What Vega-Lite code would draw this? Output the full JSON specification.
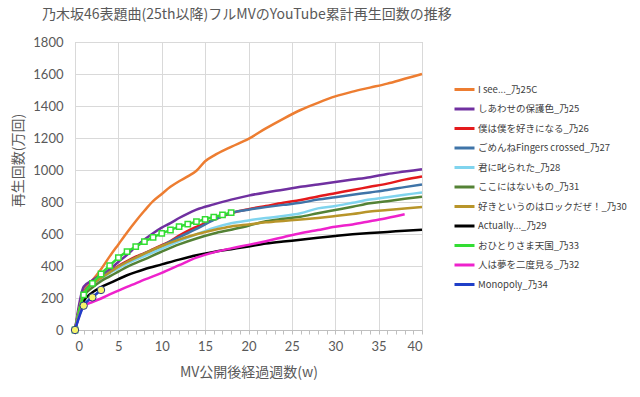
{
  "$schema": "https://vega.github.io/schema/vega-lite/v6.json",
  "autosize": {"type": "none"},
  "width": 347,
  "height": 288,
  "padding": {"left": 75, "top": 42, "right": 218, "bottom": 67},
  "background": "white",
  "config": {
    "font": "Lato, 'Noto Sans CJK JP'",
    "view": {"stroke": "#BFBFBF", "strokeWidth": 1}
  },
  "title": {
    "text": "乃木坂46表題曲(25th以降)フルMVのYouTube累計再生回数の推移",
    "anchor": "start",
    "frame": "group",
    "dx": -33,
    "offset": 14,
    "fontSize": 14,
    "fontWeight": "normal",
    "color": "#595959",
    "font": "'Noto Sans CJK JP'"
  },
  "datasets": {
    "main": [
      {"s": "I see..._乃25C", "w": 0, "v": 0}, {"s": "I see..._乃25C", "w": 1, "v": 250}, {"s": "I see..._乃25C", "w": 2, "v": 310}, {"s": "I see..._乃25C", "w": 3, "v": 380}, {"s": "I see..._乃25C", "w": 4, "v": 460}, {"s": "I see..._乃25C", "w": 5, "v": 535}, {"s": "I see..._乃25C", "w": 6, "v": 610}, {"s": "I see..._乃25C", "w": 7, "v": 680}, {"s": "I see..._乃25C", "w": 8, "v": 745}, {"s": "I see..._乃25C", "w": 9, "v": 805}, {"s": "I see..._乃25C", "w": 10, "v": 850}, {"s": "I see..._乃25C", "w": 11, "v": 895}, {"s": "I see..._乃25C", "w": 12, "v": 930}, {"s": "I see..._乃25C", "w": 13, "v": 960}, {"s": "I see..._乃25C", "w": 14, "v": 995}, {"s": "I see..._乃25C", "w": 15, "v": 1055}, {"s": "I see..._乃25C", "w": 16, "v": 1090}, {"s": "I see..._乃25C", "w": 18, "v": 1145}, {"s": "I see..._乃25C", "w": 20, "v": 1195}, {"s": "I see..._乃25C", "w": 22, "v": 1260}, {"s": "I see..._乃25C", "w": 24, "v": 1320}, {"s": "I see..._乃25C", "w": 26, "v": 1375}, {"s": "I see..._乃25C", "w": 28, "v": 1420}, {"s": "I see..._乃25C", "w": 30, "v": 1460}, {"s": "I see..._乃25C", "w": 32, "v": 1490}, {"s": "I see..._乃25C", "w": 34, "v": 1515}, {"s": "I see..._乃25C", "w": 36, "v": 1540}, {"s": "I see..._乃25C", "w": 38, "v": 1570}, {"s": "I see..._乃25C", "w": 40, "v": 1600},

      {"s": "しあわせの保護色_乃25", "w": 0, "v": 0}, {"s": "しあわせの保護色_乃25", "w": 1, "v": 270}, {"s": "しあわせの保護色_乃25", "w": 2, "v": 310}, {"s": "しあわせの保護色_乃25", "w": 3, "v": 345}, {"s": "しあわせの保護色_乃25", "w": 4, "v": 380}, {"s": "しあわせの保護色_乃25", "w": 5, "v": 425}, {"s": "しあわせの保護色_乃25", "w": 6, "v": 470}, {"s": "しあわせの保護色_乃25", "w": 7, "v": 520}, {"s": "しあわせの保護色_乃25", "w": 8, "v": 565}, {"s": "しあわせの保護色_乃25", "w": 9, "v": 605}, {"s": "しあわせの保護色_乃25", "w": 10, "v": 640}, {"s": "しあわせの保護色_乃25", "w": 11, "v": 668}, {"s": "しあわせの保護色_乃25", "w": 12, "v": 700}, {"s": "しあわせの保護色_乃25", "w": 13, "v": 728}, {"s": "しあわせの保護色_乃25", "w": 14, "v": 752}, {"s": "しあわせの保護色_乃25", "w": 16, "v": 785}, {"s": "しあわせの保護色_乃25", "w": 18, "v": 815}, {"s": "しあわせの保護色_乃25", "w": 20, "v": 840}, {"s": "しあわせの保護色_乃25", "w": 22, "v": 860}, {"s": "しあわせの保護色_乃25", "w": 24, "v": 877}, {"s": "しあわせの保護色_乃25", "w": 26, "v": 895}, {"s": "しあわせの保護色_乃25", "w": 28, "v": 910}, {"s": "しあわせの保護色_乃25", "w": 30, "v": 925}, {"s": "しあわせの保護色_乃25", "w": 32, "v": 940}, {"s": "しあわせの保護色_乃25", "w": 34, "v": 955}, {"s": "しあわせの保護色_乃25", "w": 36, "v": 975}, {"s": "しあわせの保護色_乃25", "w": 38, "v": 990}, {"s": "しあわせの保護色_乃25", "w": 40, "v": 1005},

      {"s": "僕は僕を好きになる_乃26", "w": 0, "v": 0}, {"s": "僕は僕を好きになる_乃26", "w": 1, "v": 230}, {"s": "僕は僕を好きになる_乃26", "w": 2, "v": 290}, {"s": "僕は僕を好きになる_乃26", "w": 3, "v": 330}, {"s": "僕は僕を好きになる_乃26", "w": 4, "v": 365}, {"s": "僕は僕を好きになる_乃26", "w": 5, "v": 400}, {"s": "僕は僕を好きになる_乃26", "w": 6, "v": 430}, {"s": "僕は僕を好きになる_乃26", "w": 7, "v": 458}, {"s": "僕は僕を好きになる_乃26", "w": 8, "v": 480}, {"s": "僕は僕を好きになる_乃26", "w": 9, "v": 505}, {"s": "僕は僕を好きになる_乃26", "w": 10, "v": 530}, {"s": "僕は僕を好きになる_乃26", "w": 11, "v": 555}, {"s": "僕は僕を好きになる_乃26", "w": 12, "v": 590}, {"s": "僕は僕を好きになる_乃26", "w": 13, "v": 620}, {"s": "僕は僕を好きになる_乃26", "w": 14, "v": 645}, {"s": "僕は僕を好きになる_乃26", "w": 16, "v": 690}, {"s": "僕は僕を好きになる_乃26", "w": 18, "v": 730}, {"s": "僕は僕を好きになる_乃26", "w": 20, "v": 755}, {"s": "僕は僕を好きになる_乃26", "w": 22, "v": 775}, {"s": "僕は僕を好きになる_乃26", "w": 24, "v": 795}, {"s": "僕は僕を好きになる_乃26", "w": 26, "v": 812}, {"s": "僕は僕を好きになる_乃26", "w": 28, "v": 835}, {"s": "僕は僕を好きになる_乃26", "w": 30, "v": 855}, {"s": "僕は僕を好きになる_乃26", "w": 32, "v": 875}, {"s": "僕は僕を好きになる_乃26", "w": 34, "v": 895}, {"s": "僕は僕を好きになる_乃26", "w": 36, "v": 915}, {"s": "僕は僕を好きになる_乃26", "w": 38, "v": 940}, {"s": "僕は僕を好きになる_乃26", "w": 40, "v": 960},

      {"s": "ごめんねFingers crossed_乃27", "w": 0, "v": 0}, {"s": "ごめんねFingers crossed_乃27", "w": 1, "v": 230}, {"s": "ごめんねFingers crossed_乃27", "w": 2, "v": 290}, {"s": "ごめんねFingers crossed_乃27", "w": 3, "v": 330}, {"s": "ごめんねFingers crossed_乃27", "w": 4, "v": 365}, {"s": "ごめんねFingers crossed_乃27", "w": 5, "v": 395}, {"s": "ごめんねFingers crossed_乃27", "w": 6, "v": 425}, {"s": "ごめんねFingers crossed_乃27", "w": 8, "v": 478}, {"s": "ごめんねFingers crossed_乃27", "w": 10, "v": 525}, {"s": "ごめんねFingers crossed_乃27", "w": 12, "v": 580}, {"s": "ごめんねFingers crossed_乃27", "w": 14, "v": 632}, {"s": "ごめんねFingers crossed_乃27", "w": 16, "v": 688}, {"s": "ごめんねFingers crossed_乃27", "w": 18, "v": 733}, {"s": "ごめんねFingers crossed_乃27", "w": 20, "v": 752}, {"s": "ごめんねFingers crossed_乃27", "w": 22, "v": 768}, {"s": "ごめんねFingers crossed_乃27", "w": 24, "v": 782}, {"s": "ごめんねFingers crossed_乃27", "w": 26, "v": 795}, {"s": "ごめんねFingers crossed_乃27", "w": 28, "v": 815}, {"s": "ごめんねFingers crossed_乃27", "w": 30, "v": 830}, {"s": "ごめんねFingers crossed_乃27", "w": 32, "v": 845}, {"s": "ごめんねFingers crossed_乃27", "w": 34, "v": 860}, {"s": "ごめんねFingers crossed_乃27", "w": 36, "v": 875}, {"s": "ごめんねFingers crossed_乃27", "w": 38, "v": 893}, {"s": "ごめんねFingers crossed_乃27", "w": 40, "v": 910},

      {"s": "君に叱られた_乃28", "w": 0, "v": 0}, {"s": "君に叱られた_乃28", "w": 1, "v": 220}, {"s": "君に叱られた_乃28", "w": 2, "v": 280}, {"s": "君に叱られた_乃28", "w": 3, "v": 320}, {"s": "君に叱られた_乃28", "w": 4, "v": 355}, {"s": "君に叱られた_乃28", "w": 5, "v": 385}, {"s": "君に叱られた_乃28", "w": 6, "v": 415}, {"s": "君に叱られた_乃28", "w": 8, "v": 462}, {"s": "君に叱られた_乃28", "w": 10, "v": 508}, {"s": "君に叱られた_乃28", "w": 12, "v": 555}, {"s": "君に叱られた_乃28", "w": 14, "v": 598}, {"s": "君に叱られた_乃28", "w": 16, "v": 638}, {"s": "君に叱られた_乃28", "w": 18, "v": 667}, {"s": "君に叱られた_乃28", "w": 20, "v": 685}, {"s": "君に叱られた_乃28", "w": 22, "v": 700}, {"s": "君に叱られた_乃28", "w": 24, "v": 712}, {"s": "君に叱られた_乃28", "w": 26, "v": 730}, {"s": "君に叱られた_乃28", "w": 28, "v": 760}, {"s": "君に叱られた_乃28", "w": 30, "v": 775}, {"s": "君に叱られた_乃28", "w": 32, "v": 795}, {"s": "君に叱られた_乃28", "w": 34, "v": 815}, {"s": "君に叱られた_乃28", "w": 36, "v": 830}, {"s": "君に叱られた_乃28", "w": 38, "v": 845}, {"s": "君に叱られた_乃28", "w": 40, "v": 860},

      {"s": "ここにはないもの_乃31", "w": 0, "v": 0}, {"s": "ここにはないもの_乃31", "w": 1, "v": 210}, {"s": "ここにはないもの_乃31", "w": 2, "v": 265}, {"s": "ここにはないもの_乃31", "w": 3, "v": 305}, {"s": "ここにはないもの_乃31", "w": 4, "v": 335}, {"s": "ここにはないもの_乃31", "w": 5, "v": 365}, {"s": "ここにはないもの_乃31", "w": 6, "v": 395}, {"s": "ここにはないもの_乃31", "w": 8, "v": 442}, {"s": "ここにはないもの_乃31", "w": 10, "v": 490}, {"s": "ここにはないもの_乃31", "w": 12, "v": 535}, {"s": "ここにはないもの_乃31", "w": 14, "v": 572}, {"s": "ここにはないもの_乃31", "w": 16, "v": 603}, {"s": "ここにはないもの_乃31", "w": 18, "v": 627}, {"s": "ここにはないもの_乃31", "w": 20, "v": 652}, {"s": "ここにはないもの_乃31", "w": 22, "v": 680}, {"s": "ここにはないもの_乃31", "w": 24, "v": 695}, {"s": "ここにはないもの_乃31", "w": 26, "v": 708}, {"s": "ここにはないもの_乃31", "w": 28, "v": 730}, {"s": "ここにはないもの_乃31", "w": 30, "v": 750}, {"s": "ここにはないもの_乃31", "w": 32, "v": 770}, {"s": "ここにはないもの_乃31", "w": 34, "v": 792}, {"s": "ここにはないもの_乃31", "w": 36, "v": 805}, {"s": "ここにはないもの_乃31", "w": 38, "v": 820}, {"s": "ここにはないもの_乃31", "w": 40, "v": 833},

      {"s": "好きというのはロックだぜ！_乃30", "w": 0, "v": 0}, {"s": "好きというのはロックだぜ！_乃30", "w": 1, "v": 225}, {"s": "好きというのはロックだぜ！_乃30", "w": 2, "v": 285}, {"s": "好きというのはロックだぜ！_乃30", "w": 3, "v": 325}, {"s": "好きというのはロックだぜ！_乃30", "w": 4, "v": 360}, {"s": "好きというのはロックだぜ！_乃30", "w": 5, "v": 395}, {"s": "好きというのはロックだぜ！_乃30", "w": 6, "v": 425}, {"s": "好きというのはロックだぜ！_乃30", "w": 8, "v": 477}, {"s": "好きというのはロックだぜ！_乃30", "w": 10, "v": 525}, {"s": "好きというのはロックだぜ！_乃30", "w": 12, "v": 565}, {"s": "好きというのはロックだぜ！_乃30", "w": 14, "v": 598}, {"s": "好きというのはロックだぜ！_乃30", "w": 16, "v": 625}, {"s": "好きというのはロックだぜ！_乃30", "w": 18, "v": 647}, {"s": "好きというのはロックだぜ！_乃30", "w": 20, "v": 660}, {"s": "好きというのはロックだぜ！_乃30", "w": 22, "v": 673}, {"s": "好きというのはロックだぜ！_乃30", "w": 24, "v": 682}, {"s": "好きというのはロックだぜ！_乃30", "w": 26, "v": 690}, {"s": "好きというのはロックだぜ！_乃30", "w": 28, "v": 700}, {"s": "好きというのはロックだぜ！_乃30", "w": 30, "v": 712}, {"s": "好きというのはロックだぜ！_乃30", "w": 32, "v": 725}, {"s": "好きというのはロックだぜ！_乃30", "w": 34, "v": 740}, {"s": "好きというのはロックだぜ！_乃30", "w": 36, "v": 750}, {"s": "好きというのはロックだぜ！_乃30", "w": 38, "v": 760}, {"s": "好きというのはロックだぜ！_乃30", "w": 40, "v": 768},

      {"s": "Actually..._乃29", "w": 0, "v": 0}, {"s": "Actually..._乃29", "w": 1, "v": 180}, {"s": "Actually..._乃29", "w": 2, "v": 235}, {"s": "Actually..._乃29", "w": 3, "v": 268}, {"s": "Actually..._乃29", "w": 4, "v": 293}, {"s": "Actually..._乃29", "w": 5, "v": 318}, {"s": "Actually..._乃29", "w": 6, "v": 342}, {"s": "Actually..._乃29", "w": 7, "v": 362}, {"s": "Actually..._乃29", "w": 8, "v": 380}, {"s": "Actually..._乃29", "w": 10, "v": 410}, {"s": "Actually..._乃29", "w": 12, "v": 440}, {"s": "Actually..._乃29", "w": 14, "v": 467}, {"s": "Actually..._乃29", "w": 16, "v": 488}, {"s": "Actually..._乃29", "w": 18, "v": 505}, {"s": "Actually..._乃29", "w": 20, "v": 522}, {"s": "Actually..._乃29", "w": 22, "v": 540}, {"s": "Actually..._乃29", "w": 24, "v": 553}, {"s": "Actually..._乃29", "w": 26, "v": 564}, {"s": "Actually..._乃29", "w": 28, "v": 577}, {"s": "Actually..._乃29", "w": 30, "v": 588}, {"s": "Actually..._乃29", "w": 32, "v": 598}, {"s": "Actually..._乃29", "w": 34, "v": 606}, {"s": "Actually..._乃29", "w": 36, "v": 613}, {"s": "Actually..._乃29", "w": 38, "v": 620}, {"s": "Actually..._乃29", "w": 40, "v": 627},

      {"s": "おひとりさま天国_乃33", "w": 0, "v": 0}, {"s": "おひとりさま天国_乃33", "w": 1, "v": 219}, {"s": "おひとりさま天国_乃33", "w": 2, "v": 292}, {"s": "おひとりさま天国_乃33", "w": 3, "v": 350}, {"s": "おひとりさま天国_乃33", "w": 4, "v": 402}, {"s": "おひとりさま天国_乃33", "w": 5, "v": 452}, {"s": "おひとりさま天国_乃33", "w": 6, "v": 490}, {"s": "おひとりさま天国_乃33", "w": 7, "v": 521}, {"s": "おひとりさま天国_乃33", "w": 8, "v": 552}, {"s": "おひとりさま天国_乃33", "w": 9, "v": 579}, {"s": "おひとりさま天国_乃33", "w": 10, "v": 604}, {"s": "おひとりさま天国_乃33", "w": 11, "v": 625}, {"s": "おひとりさま天国_乃33", "w": 12, "v": 646}, {"s": "おひとりさま天国_乃33", "w": 13, "v": 662}, {"s": "おひとりさま天国_乃33", "w": 14, "v": 677}, {"s": "おひとりさま天国_乃33", "w": 15, "v": 692}, {"s": "おひとりさま天国_乃33", "w": 16, "v": 706}, {"s": "おひとりさま天国_乃33", "w": 17, "v": 720}, {"s": "おひとりさま天国_乃33", "w": 18, "v": 733},

      {"s": "人は夢を二度見る_乃32", "w": 0, "v": 0}, {"s": "人は夢を二度見る_乃32", "w": 1, "v": 150}, {"s": "人は夢を二度見る_乃32", "w": 2, "v": 175}, {"s": "人は夢を二度見る_乃32", "w": 3, "v": 197}, {"s": "人は夢を二度見る_乃32", "w": 4, "v": 222}, {"s": "人は夢を二度見る_乃32", "w": 5, "v": 246}, {"s": "人は夢を二度見る_乃32", "w": 6, "v": 270}, {"s": "人は夢を二度見る_乃32", "w": 7, "v": 292}, {"s": "人は夢を二度見る_乃32", "w": 8, "v": 315}, {"s": "人は夢を二度見る_乃32", "w": 10, "v": 357}, {"s": "人は夢を二度見る_乃32", "w": 12, "v": 405}, {"s": "人は夢を二度見る_乃32", "w": 14, "v": 452}, {"s": "人は夢を二度見る_乃32", "w": 16, "v": 485}, {"s": "人は夢を二度見る_乃32", "w": 18, "v": 510}, {"s": "人は夢を二度見る_乃32", "w": 20, "v": 532}, {"s": "人は夢を二度見る_乃32", "w": 22, "v": 555}, {"s": "人は夢を二度見る_乃32", "w": 24, "v": 580}, {"s": "人は夢を二度見る_乃32", "w": 26, "v": 605}, {"s": "人は夢を二度見る_乃32", "w": 28, "v": 625}, {"s": "人は夢を二度見る_乃32", "w": 30, "v": 645}, {"s": "人は夢を二度見る_乃32", "w": 32, "v": 660}, {"s": "人は夢を二度見る_乃32", "w": 34, "v": 680}, {"s": "人は夢を二度見る_乃32", "w": 36, "v": 700}, {"s": "人は夢を二度見る_乃32", "w": 38, "v": 723},

      {"s": "Monopoly_乃34", "w": 0, "v": 0}, {"s": "Monopoly_乃34", "w": 1, "v": 152}, {"s": "Monopoly_乃34", "w": 2, "v": 204}, {"s": "Monopoly_乃34", "w": 3, "v": 250}
    ]
  },
  "data": {"name": "main"},
  "encoding": {
    "x": {
      "field": "w", "type": "quantitative",
      "scale": {"domain": [0, 40], "nice": false},
      "axis": {
        "title": "MV公開後経過週数(w)",
        "titleFont": "'Noto Sans CJK JP'",
        "titleFontSize": 14, "titleFontWeight": "normal", "titleColor": "#595959", "titlePadding": 12,
        "values": [0,1,2,3,4,5,6,7,8,9,10,11,12,13,14,15,16,17,18,19,20,21,22,23,24,25,26,27,28,29,30,31,32,33,34,35,36,37,38,39,40],
        "labelExpr": "datum.value % 5 === 0 ? datum.label : ''",
        "labelFontSize": 13, "labelColor": "#595959", "labelPadding": 6,
        "domainColor": "#BFBFBF", "tickColor": "#BFBFBF", "tickSize": 4,
        "gridColor": "#D9D9D9",
        "gridOpacity": {"condition": {"test": "datum.value % 5 === 0", "value": 1}, "value": 0}
      }
    },
    "y": {
      "field": "v", "type": "quantitative",
      "scale": {"domain": [0, 1800], "nice": false},
      "axis": {
        "title": "再生回数(万回)",
        "titleFont": "'Noto Sans CJK JP'",
        "titleFontSize": 14, "titleFontWeight": "normal", "titleColor": "#595959",
        "titleX": -57, "titleY": 118, "titleAngle": -90, "titleAlign": "center", "titleBaseline": "middle",
        "values": [0,200,400,600,800,1000,1200,1400,1600,1800],
        "format": "d",
        "labelFontSize": 13, "labelColor": "#595959", "labelPadding": 12,
        "ticks": false, "domainColor": "#D9D9D9", "gridColor": "#D9D9D9"
      }
    }
  },
  "layer": [
    {
      "mark": {"type": "line", "interpolate": "monotone", "strokeWidth": 2.5},
      "encoding": {
        "color": {
          "field": "s", "type": "nominal",
          "scale": {
            "domain": ["I see..._乃25C", "しあわせの保護色_乃25", "僕は僕を好きになる_乃26", "ごめんねFingers crossed_乃27", "君に叱られた_乃28", "ここにはないもの_乃31", "好きというのはロックだぜ！_乃30", "Actually..._乃29", "おひとりさま天国_乃33", "人は夢を二度見る_乃32", "Monopoly_乃34"],
            "range": ["#ED7D31", "#7030A0", "#E41A1C", "#3F74A8", "#80D4EE", "#548235", "#B8952A", "#000000", "#33DD33", "#EE22CC", "#1F3FC8"]
          },
          "legend": {
            "title": null,
            "orient": "none",
            "legendX": 378,
            "legendY": 36,
            "symbolType": "stroke",
            "symbolStrokeWidth": 3,
            "symbolSize": 400,
            "labelFont": "'Noto Sans CJK JP'",
            "labelFontSize": 9.5,
            "labelColor": "#404040",
            "labelOffset": 2,
            "rowPadding": 1.5,
            "labelLimit": 220
          }
        },
        "order": {"value": 0}
      }
    },
    {
      "transform": [{"filter": "datum.s === 'おひとりさま天国_乃33'"}],
      "mark": {"type": "point", "shape": "square", "filled": true, "fill": "white", "stroke": "#33DD33", "strokeWidth": 1.5, "size": 28, "opacity": 1}
    },
    {
      "transform": [{"filter": "datum.s === 'Monopoly_乃34'"}],
      "mark": {"type": "point", "shape": "circle", "filled": true, "fill": "#F5F56A", "stroke": "#2A3A8A", "strokeWidth": 1, "size": 55, "opacity": 1}
    }
  ]
}
